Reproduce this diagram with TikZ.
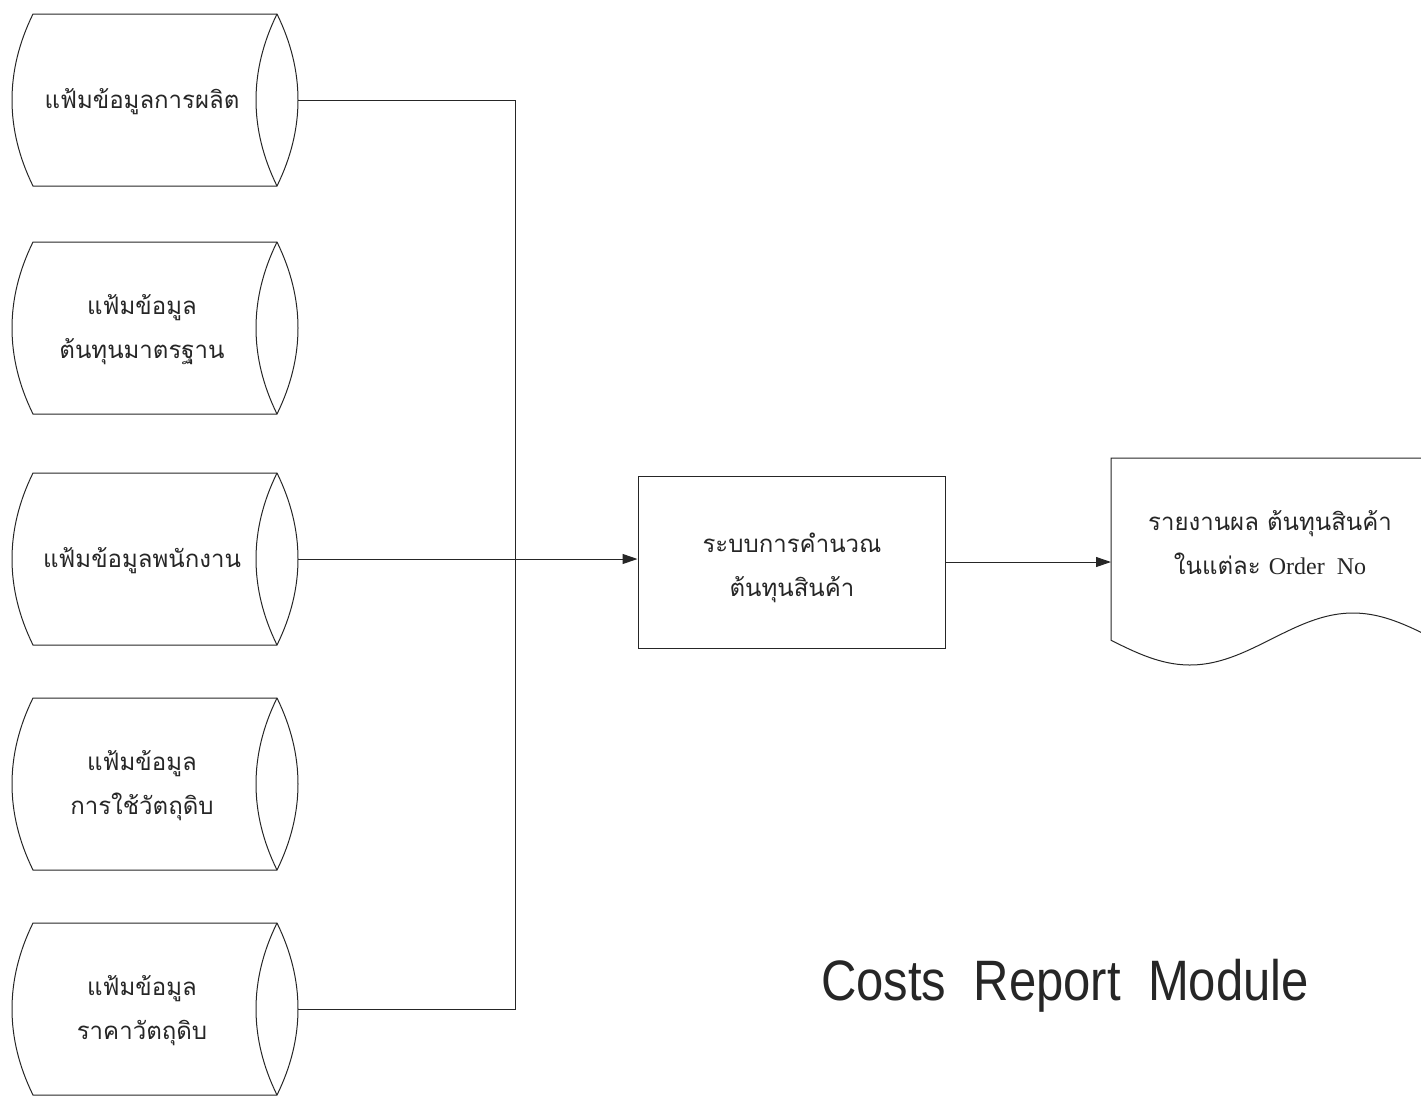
\documentclass[tikz,border=0pt]{standalone}
\usepackage{graphicx}
\usepackage{fontspec}
\newfontfamily\thaifont[Script=Thai]{Loma}
\newfontfamily\tmsfont{Liberation Serif}
\newfontfamily\arialfont{Liberation Sans}
\usetikzlibrary{arrows.meta,calc}
\tikzset{
 shp/.style={line width=1pt, draw=black!85},
 cylbox/.style={minimum width=286pt, minimum height=172pt, inner sep=0pt},
 thaitext/.style={align=center, text=black!85, font=\thaifont\fontsize{24}{44}\selectfont},
 flow/.style={line width=1pt, draw=black!85},
 arr/.style={flow, -{Triangle[length=15pt,width=10pt]}},
}
\newcommand\mycyl[3]{%
 \node[cylbox] (#1) at (155,#2) {};
 \draw[shp] (33,{#2-86}) -- (277,{#2-86}) .. controls (305,{#2-29}) and (305,{#2+29}) .. (277,{#2+86}) -- (33,{#2+86}) .. controls (5,{#2+29}) and (5,{#2-29}) .. cycle;
 \draw[shp] (277,{#2-86}) .. controls (249,{#2-29}) and (249,{#2+29}) .. (277,{#2+86});
 \node[thaitext] (#1t) at (142,{#2+2}) {#3};
}
\begin{document}
\begin{tikzpicture}[x=1pt,y=-1pt]
\useasboundingbox (0,0) rectangle (1421,1096);
\mycyl{c1}{100}{แฟ้มข้อมูลการผลิต}
\mycyl{c2}{328}{แฟ้มข้อมูล\\ต้นทุนมาตรฐาน}
\mycyl{c3}{559}{แฟ้มข้อมูลพนักงาน}
\mycyl{c4}{784}{แฟ้มข้อมูล\\การใช้วัตถุดิบ}
\mycyl{c5}{1009}{แฟ้มข้อมูล\\ราคาวัตถุดิบ}
\node[shp, minimum width=307pt, minimum height=172pt, inner sep=0pt] (proc) at (791.5,562) {};
\node[thaitext] (proct) at (792,568) {ระบบการคำนวณ\\ต้นทุนสินค้า};
\node[minimum width=310pt, minimum height=182pt, inner sep=0pt, anchor=north west] (doc) at (1111,458) {};
\draw[shp] (1421,458) -- (1111,458) -- (1111,640) -- plot[domain=1111:1421, samples=80, smooth] (\x,{639+26*sin((\x-1108.5)*1.10429)});
\node[thaitext] (doct) at (1270,543) {รายงานผล ต้นทุนสินค้า\\ในแต่ละ {\tmsfont Order\ \ No}};
\node[font=\arialfont\fontsize{57}{60}\selectfont, text=black!85] (title) at (1065,986) {\scalebox{0.86}[1]{Costs\ \ Report\ \ Module}};
\coordinate (bus) at (515,0);
\draw[flow] (c1.east) -| (bus |- c5.east) -- (c5.east);
\draw[arr] (c3.east) -- (c3.east -| proc.west);
\draw[arr] (proc.east) -- (proc.east -| doc.west);
\end{tikzpicture}
\end{document}
